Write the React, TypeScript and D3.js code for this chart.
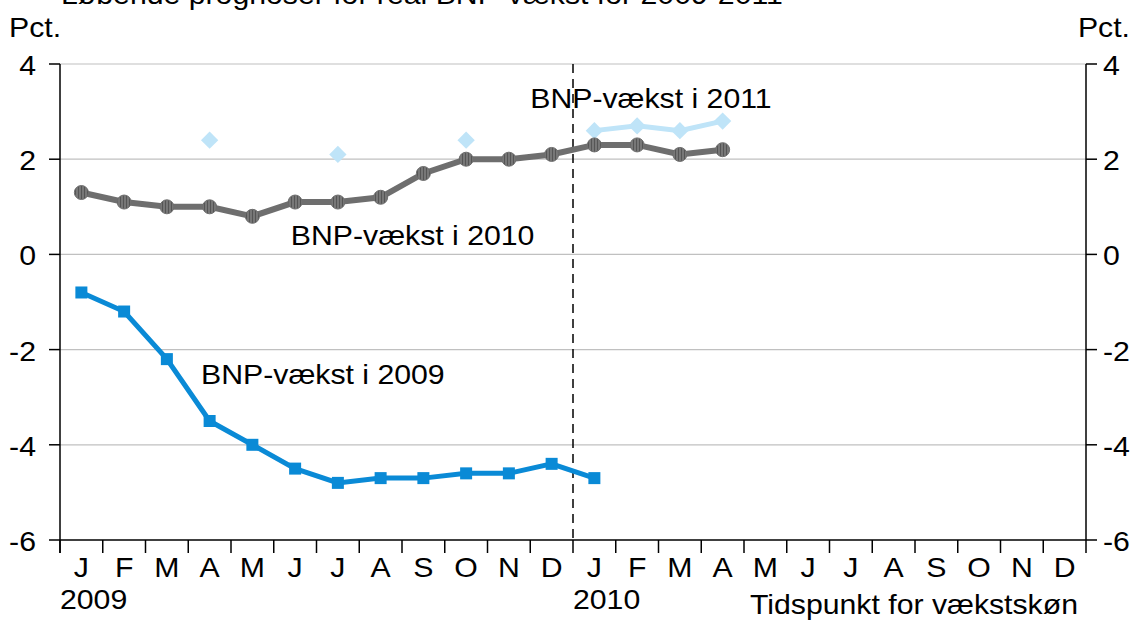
import React, { useEffect, useRef } from 'react';
import * as d3 from 'd3';

const months = ['J', 'F', 'M', 'A', 'M', 'J', 'J', 'A', 'S', 'O', 'N', 'D', 'J', 'F', 'M', 'A', 'M', 'J', 'J', 'A', 'S', 'O', 'N', 'D'];
const years = ['2009', '2010'];
const yTicks = [4, 2, 0, -2, -4, -6];

// forecasts by month of forecast (index 0 = Jan 2009)
const growth2009 = [-0.8, -1.2, -2.2, -3.5, -4.0, -4.5, -4.8, -4.7, -4.7, -4.6, -4.6, -4.4, -4.7];
const growth2010 = [1.3, 1.1, 1.0, 1.0, 0.8, 1.1, 1.1, 1.2, 1.7, 2.0, 2.0, 2.1, 2.3, 2.3, 2.1, 2.2];
const growth2011: (number | null)[] = [null, null, null, 2.4, null, null, 2.1, null, null, 2.4, null, null, 2.6, 2.7, 2.6, 2.8];

// label anchors: month position (in month units from left edge) and value
const seriesLabels = [
  { text: 'BNP-vækst i 2011', pos: 11.0, value: 3.07 },
  { text: 'BNP-vækst i 2010', pos: 5.4, value: 0.19 },
  { text: 'BNP-vækst i 2009', pos: 3.3, value: -2.73 }
];

const W = 1136;
const H = 624;
const FONT = '"Liberation Sans", Arial, sans-serif';
const FS = 28;
const SX = 1.08;

export default function App() {
  const ref = useRef<SVGSVGElement>(null);

  useEffect(() => {
    const svg = d3.select(ref.current);
    svg.selectAll('*').remove();

    const x = d3.scaleBand<number>().domain(d3.range(months.length)).range([60, 1086]).padding(0);
    const y = d3.scaleLinear().domain([-6, 4]).range([540, 64]);
    const bw = x.bandwidth();
    const cx = (i: number) => (x(i) as number) + bw / 2;

    const txt = (g: any, tx: number, ty: number, s: string, anchor = 'start') =>
      g.append('text')
        .attr('transform', `translate(${tx},${ty}) scale(${SX},1)`)
        .attr('text-anchor', anchor)
        .attr('font-family', FONT)
        .attr('font-size', FS)
        .attr('fill', '#000')
        .text(s);

    const defs = svg.append('defs');
    const pat = defs.append('pattern')
      .attr('id', 'hatch')
      .attr('patternUnits', 'userSpaceOnUse')
      .attr('width', 3)
      .attr('height', 3);
    pat.append('rect').attr('width', 3).attr('height', 3).attr('fill', '#777');
    pat.append('line').attr('x1', 0.5).attr('x2', 0.5).attr('y1', 0).attr('y2', 3)
      .attr('stroke', '#555').attr('stroke-width', 1);

    // title (clipped at top as in source)
    txt(svg, 61, 4, 'Løbende prognoser for real BNP-vækst for 2009-2011');

    txt(svg, 9, 37, 'Pct.');
    txt(svg, 1130, 37, 'Pct.', 'end');

    // grid
    svg.append('g').selectAll('line').data(yTicks.filter(d => d > -6)).join('line')
      .attr('x1', 60).attr('x2', 1086)
      .attr('y1', d => y(d)).attr('y2', d => y(d))
      .attr('stroke', '#c0c0c0').attr('stroke-width', 1.2);

    // left axis
    const axisL = svg.append('g');
    axisL.append('line').attr('x1', 60).attr('x2', 60).attr('y1', y(4)).attr('y2', 553).attr('stroke', '#000').attr('stroke-width', 1.5);
    axisL.selectAll('line.t').data(yTicks).join('line').attr('class', 't')
      .attr('x1', 49).attr('x2', 60).attr('y1', d => y(d)).attr('y2', d => y(d))
      .attr('stroke', '#000').attr('stroke-width', 1.5);
    yTicks.forEach(d => txt(axisL, 36, y(d) + 11, String(d), 'end'));

    // right axis
    const axisR = svg.append('g');
    axisR.append('line').attr('x1', 1086).attr('x2', 1086).attr('y1', y(4)).attr('y2', y(-6)).attr('stroke', '#000').attr('stroke-width', 1.5);
    axisR.selectAll('line.t').data(yTicks).join('line').attr('class', 't')
      .attr('x1', 1086).attr('x2', 1097).attr('y1', d => y(d)).attr('y2', d => y(d))
      .attr('stroke', '#000').attr('stroke-width', 1.5);
    yTicks.forEach(d => txt(axisR, 1103, y(d) + 11, String(d)));

    // x axis
    const axisX = svg.append('g');
    axisX.append('line').attr('x1', 60).attr('x2', 1086).attr('y1', 540).attr('y2', 540).attr('stroke', '#000').attr('stroke-width', 1.5);
    axisX.selectAll('line.t').data(d3.range(months.length + 1)).join('line').attr('class', 't')
      .attr('x1', i => 60 + i * bw).attr('x2', i => 60 + i * bw)
      .attr('y1', 540).attr('y2', 553)
      .attr('stroke', '#000').attr('stroke-width', 1.5);
    months.forEach((m, i) => txt(axisX, cx(i), 577, m, 'middle'));
    years.forEach((yr, i) => txt(axisX, 60 + i * 12 * bw, 609, yr));
    txt(axisX, 1078, 614, 'Tidspunkt for vækstskøn', 'end');

    // dashed divider
    svg.append('line').attr('x1', 60 + 12 * bw).attr('x2', 60 + 12 * bw)
      .attr('y1', y(4)).attr('y2', 540)
      .attr('stroke', '#000').attr('stroke-width', 1.5).attr('stroke-dasharray', '9,6');

    const line = d3.line<number | null>()
      .defined(d => d !== null)
      .x((d, i) => cx(i))
      .y(d => y(d as number));

    // 2011 series
    svg.append('path').datum(growth2011).attr('d', line)
      .attr('fill', 'none').attr('stroke', '#bfe4f8').attr('stroke-width', 5);
    svg.append('g').selectAll('path').data(growth2011.map((v, i) => ({ v, i })).filter(d => d.v !== null)).join('path')
      .attr('d', d3.symbol().type(d3.symbolSquare).size(150)())
      .attr('transform', d => `translate(${cx(d.i)},${y(d.v as number)}) rotate(45)`)
      .attr('fill', '#bfe4f8');

    // 2010 series
    svg.append('path').datum(growth2010).attr('d', line)
      .attr('fill', 'none').attr('stroke', '#6e6e6e').attr('stroke-width', 6);
    svg.append('g').selectAll('circle').data(growth2010).join('circle')
      .attr('cx', (d, i) => cx(i)).attr('cy', d => y(d)).attr('r', 7)
      .attr('fill', 'url(#hatch)').attr('stroke', '#6e6e6e').attr('stroke-width', 1);

    // 2009 series
    svg.append('path').datum(growth2009).attr('d', line)
      .attr('fill', 'none').attr('stroke', '#0a8ad6').attr('stroke-width', 5);
    svg.append('g').selectAll('rect').data(growth2009).join('rect')
      .attr('x', (d, i) => cx(i) - 6).attr('y', d => y(d) - 6)
      .attr('width', 12).attr('height', 12)
      .attr('fill', '#0a8ad6');

    // labels
    const lg = svg.append('g');
    seriesLabels.forEach(d => txt(lg, 60 + d.pos * bw, y(d.value), d.text));
  }, []);

  return (
    <svg ref={ref} width={W} height={H} style={{ position: 'absolute', left: 0, top: 0, background: '#fff' }} />
  );
}
